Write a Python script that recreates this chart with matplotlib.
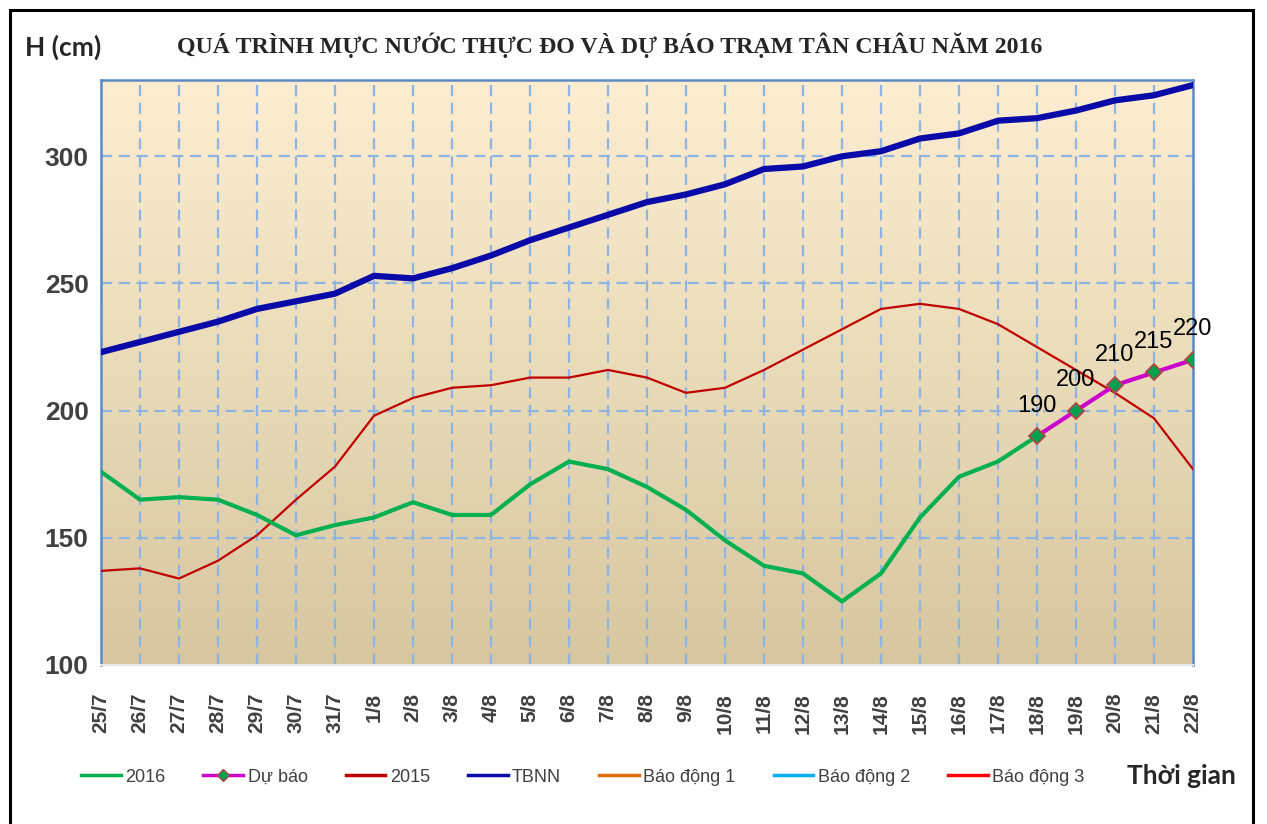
import numpy as np
import matplotlib.pyplot as plt
from matplotlib.lines import Line2D
from matplotlib.patches import Rectangle

# ngày 25/7 -> 22/8
dates = ["25/7", "26/7", "27/7", "28/7", "29/7", "30/7", "31/7",
         "1/8", "2/8", "3/8", "4/8", "5/8", "6/8", "7/8", "8/8", "9/8",
         "10/8", "11/8", "12/8", "13/8", "14/8", "15/8", "16/8", "17/8",
         "18/8", "19/8", "20/8", "21/8", "22/8"]

h_2016 = [176, 165, 166, 165, 159, 151, 155, 158, 164, 159, 159, 171,
          180, 177, 170, 161, 149, 139, 136, 125, 136, 158, 174, 180, 190]
h_dubao = [190, 200, 210, 215, 220]
h_2015 = [137, 138, 134, 141, 151, 165, 178, 198, 205, 209, 210, 213,
          213, 216, 213, 207, 209, 216, 224, 232, 240, 242, 240, 234,
          225, 216, 207, 197, 177]
h_tbnn = [223, 227, 231, 235, 240, 243, 246, 253, 252, 256, 261, 267,
          272, 277, 282, 285, 289, 295, 296, 300, 302, 307, 309, 314,
          315, 318, 322, 324, 328]
bao_dong = [350, 400, 450]

x = np.arange(len(dates))
x_2016 = x[:len(h_2016)]
x_dubao = x[len(h_2016) - 1:]

fig = plt.figure(figsize=(12.67, 8.24), dpi=100)
ax = fig.add_axes([101 / 1267, 1 - 665 / 824, 1092 / 1267, 585 / 824])

# nền chuyển màu
top = np.array([253, 238, 210]) / 255
bot = np.array([214, 199, 160]) / 255
t = np.linspace(0, 1, 256)[:, None]
grad = (top * (1 - t) + bot * t)[:, None, :]
ax.imshow(grad, extent=[0, 1, 0, 1], transform=ax.transAxes,
          aspect="auto", zorder=0)

ax.set_xlim(0, len(dates) - 1)
ax.set_ylim(100, 330)

grid_kw = dict(color="#8DB4E2", lw=1.6, ls=(0, (5, 3)), zorder=1)
for xi in x[1:-1]:
    ax.axvline(xi, **grid_kw)
for yv in [150, 200, 250, 300]:
    ax.axhline(yv, **grid_kw)

c16, cdb, c15, ctb = "#00B050", "#CC00CC", "#C00000", "#0A0AA8"
ax.plot(x_2016, h_2016, color=c16, lw=3, zorder=4, solid_joinstyle="round")
ax.plot(x_dubao, h_dubao, color=cdb, lw=3, marker="D", ms=8.5,
        mfc="#00A050", mec="#B04848", mew=1.3, zorder=5)
ax.plot(x, h_2015, color=c15, lw=1.6, zorder=3, solid_joinstyle="round")
ax.plot(x, h_tbnn, color=ctb, lw=4.5, zorder=3, solid_joinstyle="round")
bd_colors = ["#E36C09", "#00B0F0", "#FF0000"]
for lv, c in zip(bao_dong, bd_colors):
    ax.plot(x, [lv] * len(x), color=c, lw=2)

for xi, v in zip(x_dubao, h_dubao):
    ax.annotate(str(v), (xi, v), xytext=(0, 22), textcoords="offset points",
                ha="center", va="center", fontsize=17, color="black",
                fontfamily="Liberation Sans", zorder=6, annotation_clip=False)

ax.set_xticks(x)
ax.set_xticklabels(dates, rotation=90, fontsize=15, fontweight="bold",
                   color="#404040", fontfamily="Liberation Sans")
ax.set_yticks([100, 150, 200, 250, 300])
ax.set_yticklabels(["100", "150", "200", "250", "300"], fontsize=19,
                   fontweight="bold", color="#404040",
                   fontfamily="Liberation Sans")
ax.tick_params(axis="x", length=0, pad=20)
ax.tick_params(axis="y", length=0, pad=9)

for s in ["left", "right", "top"]:
    ax.spines[s].set_color("#5B8AC6")
    ax.spines[s].set_linewidth(1.8)
ax.spines["bottom"].set_color("#E8E8E8")
ax.spines["bottom"].set_linewidth(1.5)

fig.text(610 / 1267, 1 - 45 / 824,
         "QUÁ TRÌNH MỰC NƯỚC THỰC ĐO VÀ DỰ BÁO TRẠM TÂN CHÂU NĂM 2016",
         ha="center", va="center", fontsize=17.2, fontweight="bold",
         fontfamily="Liberation Serif", color="#262626")
fig.text(25 / 1267, 1 - 47 / 824, "H (cm)", ha="left", va="center",
         fontsize=19, fontweight="bold", fontfamily="Lato", color="#262626")
fig.text(1236 / 1267, 1 - 776 / 824, "Thời gian", ha="right", va="center",
         fontsize=19, fontweight="bold", fontfamily="Lato", color="#262626")

handles = [
    Line2D([], [], color=c16, lw=2.5),
    Line2D([], [], color=cdb, lw=2.5, marker="D", ms=6, mfc="#00A050",
           mec="#B04848"),
    Line2D([], [], color=c15, lw=2.5),
    Line2D([], [], color=ctb, lw=2.5),
] + [Line2D([], [], color=c, lw=2.5) for c in bd_colors]
labels = ["2016", "Dự báo", "2015", "TBNN", "Báo động 1", "Báo động 2",
          "Báo động 3"]
fig.legend(handles, labels, loc="center left",
           bbox_to_anchor=(72 / 1267, 1 - 777 / 824), ncol=7, frameon=False,
           prop={"family": "Liberation Sans", "size": 13},
           handlelength=2.2, handletextpad=0.25, columnspacing=2.1,
           borderpad=0, labelcolor="#404040")

fig.patches.append(Rectangle((10 / 1267, -0.05), 1243 / 1267, 1.05 - 10 / 824,
                             transform=fig.transFigure, fill=False,
                             ec="black", lw=2.2))

fig.savefig("out.png", dpi=100)
